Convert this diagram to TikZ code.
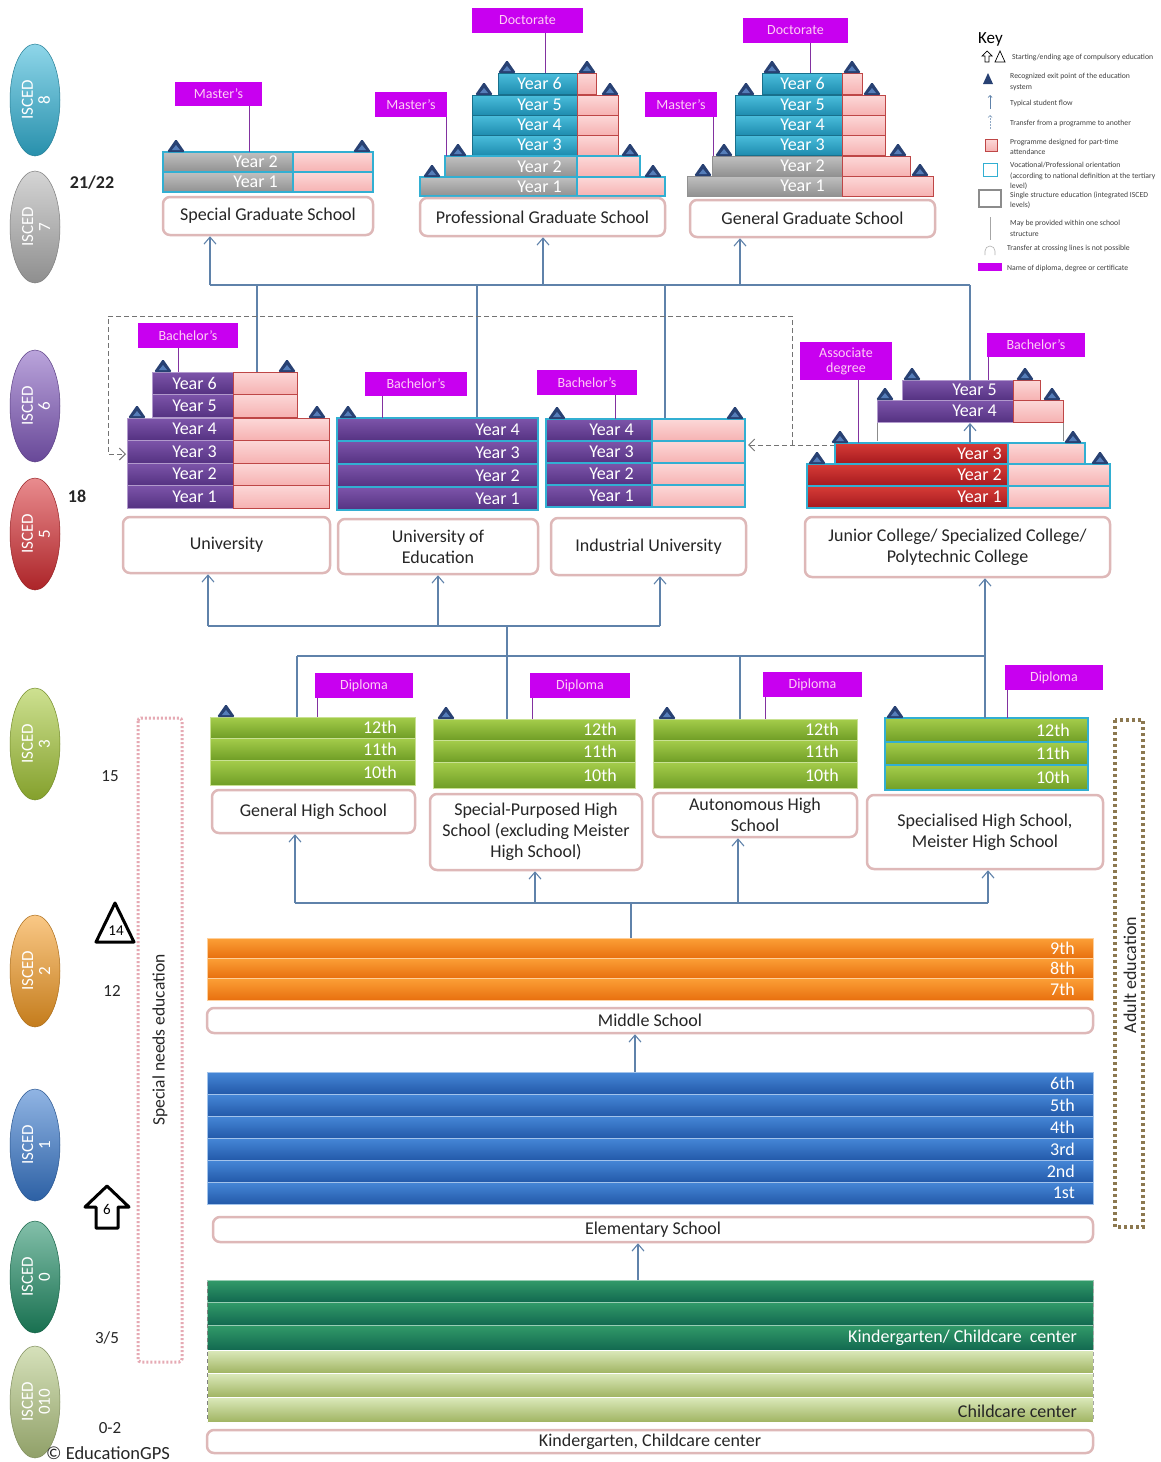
\documentclass[tikz,border=0pt]{standalone}
\usepackage{fontspec}
\setmainfont{Carlito}
\usetikzlibrary{arrows.meta}
\definecolor{mag}{RGB}{200,0,240}
\definecolor{magt}{RGB}{255,205,245}
\definecolor{magline}{RGB}{130,50,160}
\definecolor{pkA}{RGB}{252,216,216}
\definecolor{pkB}{RGB}{246,178,178}
\definecolor{pinkb}{RGB}{190,70,70}
\definecolor{cyanb}{RGB}{50,175,210}
\definecolor{grA}{RGB}{192,192,192}
\definecolor{grB}{RGB}{145,145,145}
\definecolor{teA}{RGB}{75,190,220}
\definecolor{teB}{RGB}{30,140,175}
\definecolor{puA}{RGB}{125,85,170}
\definecolor{puB}{RGB}{85,50,130}
\definecolor{rdA}{RGB}{215,60,55}
\definecolor{rdB}{RGB}{165,25,30}
\definecolor{gnA}{RGB}{165,205,75}
\definecolor{gnB}{RGB}{112,158,38}
\definecolor{orA}{RGB}{252,160,55}
\definecolor{orB}{RGB}{232,112,15}
\definecolor{blA}{RGB}{70,135,215}
\definecolor{blB}{RGB}{35,90,170}
\definecolor{dgA}{RGB}{50,155,105}
\definecolor{dgB}{RGB}{18,105,80}
\definecolor{lgA}{RGB}{220,234,188}
\definecolor{lgB}{RGB}{160,180,98}
\definecolor{boxb}{RGB}{222,184,184}
\definecolor{flowc}{RGB}{95,130,170}
\definecolor{triC}{RGB}{40,65,115}
\definecolor{triL}{RGB}{85,125,185}
\definecolor{iEight}{RGB}{50,180,215}
\definecolor{iSeven}{RGB}{178,178,178}
\definecolor{iSix}{RGB}{130,90,190}
\definecolor{iFive}{RGB}{215,45,50}
\definecolor{iThree}{RGB}{165,200,55}
\definecolor{iTwo}{RGB}{245,155,35}
\definecolor{iOne}{RGB}{55,120,205}
\definecolor{iZero}{RGB}{30,140,100}
\definecolor{iZZ}{RGB}{180,200,130}
\definecolor{spn}{RGB}{230,170,180}
\definecolor{adl}{RGB}{140,120,80}

% year row: x1 x2 x3 y1 y2 colstyle pinkstyle text offset
\newcommand{\yrow}[9]{%
  \path[#6] (#1,#4) rectangle (#2,#5);
  \path[#7] (#2,#4) rectangle (#3,#5);
  \node[yrt, anchor=east] at ({#2-#9},{(#4+#5)/2}) {#8};}
% full band: x1 x2 y1 y2 style text
\newcommand{\cband}[6]{%
  \path[#5] (#1,#3) rectangle (#2,#4);
  \node[yrt, anchor=east] at ({#2-18},{(#3+#4)/2}) {#6};}
% triangle exit point
\newcommand{\etri}[2]{%
  \fill[triC, rounded corners=1.5pt] ({#1-9},#2) -- (#1,{#2-13}) -- ({#1+9},#2) -- cycle;
  \fill[triL] ({#1-4},{#2-2}) -- (#1,{#2-7}) -- ({#1+4},{#2-2}) -- cycle;}
% school box
\newcommand{\schoolbox}[6]{%
  \node[sbox, minimum width={#4-#2}, minimum height={#5-#3}] (#1) at ({(#2+#4)/2},{(#3+#5)/2}) {#6};}
% diploma label: name x1 y1 x2 y2 linex liney text
\newcommand{\dlab}[8]{%
  \node[labbox, minimum width={#4-#2}, minimum height={#5-#3}] (#1) at ({(#2+#4)/2},{(#3+#5)/2}) {#8};
  \coordinate (#1t) at (#6,#7);
  \draw[labline] (#1.south -| #1t) -- (#1t);}
% ISCED ellipse: name y color number
\newcommand{\iscell}[4]{%
  \path[top color=#3!55!white, bottom color=#3!80!black, draw=#3!70!black, line width=0.5pt] (35,#2) ellipse [x radius=25pt, y radius=56pt];
  \node[rotate=90, text=white, align=center, font=\fontsize{17}{17}\selectfont] (#1) at (36,#2) {ISCED\\#4};}

\begin{document}
\begin{tikzpicture}[x=1pt,y=-1pt,
  flowl/.style={draw=flowc, line width=1.1pt},
  flowa/.style={draw=flowc, line width=1.1pt, -{Straight Barb[length=7pt,width=12pt]}},
  dflow/.style={draw=black!55, line width=1pt, dash pattern=on 5pt off 3pt},
  labbox/.style={fill=mag, inner sep=1pt, text=magt, font=\fontsize{14}{15}\selectfont, align=center},
  labline/.style={draw=magline, line width=1pt},
  sbox/.style={draw=boxb, line width=2.5pt, rounded corners=7pt, fill=white, inner sep=2pt, align=center, font=\fontsize{18}{21}\selectfont, text=black!85},
  yrt/.style={text=white, font=\fontsize{18}{18}\selectfont, inner sep=0pt},
  sgr/.style={top color=grA, bottom color=grB, draw=grB, line width=0.4pt},
  sgrc/.style={top color=grA, bottom color=grB, draw=cyanb, line width=1.3pt},
  ste/.style={top color=teA, bottom color=teB, draw=teB!80!black, line width=0.4pt},
  spu/.style={top color=puA, bottom color=puB, draw=puA!60!white, line width=0.5pt},
  spuc/.style={top color=puA, bottom color=puB, draw=cyanb, line width=1.3pt},
  srdc/.style={top color=rdA, bottom color=rdB, draw=cyanb, line width=1.6pt},
  spk/.style={top color=pkA, bottom color=pkB, draw=pinkb, line width=0.7pt},
  spkc/.style={top color=pkA, bottom color=pkB, draw=cyanb, line width=1.3pt},
  sgn/.style={top color=gnA, bottom color=gnB, draw=gnA!60!white, line width=0.4pt},
  sgnc/.style={top color=gnA, bottom color=gnB, draw=cyanb, line width=1.6pt},
  sorg/.style={top color=orA, bottom color=orB, draw=orA!50!white, line width=0.4pt},
  sblu/.style={top color=blA, bottom color=blB, draw=blA!50!white, line width=0.4pt},
  sdgn/.style={top color=dgA, bottom color=dgB, draw=dgA!50!white, line width=0.4pt},
  slgn/.style={top color=lgA, bottom color=lgB, draw=white, line width=0.4pt},
  keyt/.style={anchor=west, align=left, font=\fontsize{7.7}{10.5}\selectfont, text=black!75, inner sep=0pt},
  age/.style={font=\fontsize{17}{17}\selectfont, text=black!85}
]
\useasboundingbox (0,0) rectangle (1160,1462);
\fill[white] (0,0) rectangle (1160,1462);

% ---------- ISCED ellipses ----------
\iscell{i8}{100}{iEight}{8}
\iscell{i7}{227}{iSeven}{7}
\iscell{i6}{406}{iSix}{6}
\iscell{i5}{534}{iFive}{5}
\iscell{i3}{744}{iThree}{3}
\iscell{i2}{971}{iTwo}{2}
\iscell{i1}{1145}{iOne}{1}
\iscell{i0}{1277}{iZero}{0}
\iscell{i010}{1402}{iZZ}{010}

% ---------- ages ----------
\node[age, font=\fontsize{18}{18}\bfseries] (a21) at (92,183) {21/22};
\node[age, font=\fontsize{18}{18}\bfseries] (a18) at (77,496) {18};
\node[age] (a15) at (110,776) {15};
\node[age] (a12) at (112,991) {12};
\node[age] (a35) at (107,1338) {3/5};
\node[age] (a02) at (110,1428) {0-2};
\node[font=\fontsize{18.5}{18.5}\selectfont, text=black!85] (copy) at (108,1453) {© EducationGPS};
\draw[line width=3pt, line join=round] (96,942) -- (115,903) -- (134,942) -- cycle;
\node[font=\fontsize{15}{15}\selectfont] (a14) at (116,931) {14};
\draw[line width=3pt, line join=round] (107,1186) -- (85,1207) -- (96,1207) -- (96,1228) -- (118,1228) -- (118,1207) -- (129,1207) -- cycle;
\node[font=\fontsize{15}{15}\selectfont] (a6) at (107,1209) {6};

% ---------- side frames ----------
\draw[spn, line width=3pt, dash pattern=on 2pt off 2pt, rounded corners=3pt] (138,718) rectangle (182,1362);
\node[rotate=90, font=\fontsize{17.5}{17.5}\selectfont, text=black!85] (sne) at (160,1040) {Special needs education};
\draw[adl, line width=3.5pt, dash pattern=on 3pt off 3pt] (1115,720) rectangle (1143,1227);
\node[rotate=90, font=\fontsize{18}{18}\selectfont, text=black!85] (adu) at (1130,975) {Adult education};

% ---------- flow lines (graduate) ----------
\coordinate (g0) at (210,285); \coordinate (g1) at (257,285); \coordinate (g2) at (477,285);
\coordinate (g3) at (543,285); \coordinate (g4) at (665,285); \coordinate (g5) at (740,285);
\coordinate (g6) at (970,285);
\coordinate (u6) at (257,372); \coordinate (e4) at (477,418); \coordinate (d4) at (665,419);
\coordinate (j5) at (970,380);
\draw[flowl] (g0) -- (g6);
\draw[flowl] (g1) -- (u6);
\draw[flowl] (g2) -- (e4);
\draw[flowl] (g4) -- (d4);
\draw[flowl] (g6) -- (j5);

% ---------- flow lines (HS -> tertiary) ----------
\coordinate (h0) at (208,626); \coordinate (h1) at (438,626); \coordinate (h2) at (507,626);
\coordinate (h3) at (660,626);
\coordinate (sp) at (507,719);
\draw[flowl] (h0) -- (h3);
\draw[flowl] (sp) -- (h2);
\coordinate (k0) at (297,656); \coordinate (k1) at (740,656); \coordinate (k2) at (985,656);
\coordinate (gh) at (297,717); \coordinate (ah) at (740,719); \coordinate (sh) at (985,718);
\draw[flowl] (k0) -- (k2);
\draw[flowl] (k0) -- (gh);
\draw[flowl] (k1) -- (ah);

% ---------- flow lines (middle -> HS) ----------
\coordinate (m0) at (631,938); \coordinate (m1) at (631,903);
\coordinate (n0) at (295,903); \coordinate (n1) at (535,903); \coordinate (n2) at (738,903); \coordinate (n3) at (988,903);
\draw[flowl] (m0) -- (m1);
\draw[flowl] (n0) -- (n3);

% ---------- dashed transfer ----------
\coordinate (t0) at (835,445); \coordinate (t1) at (748,445); \coordinate (t2) at (792,445);
\coordinate (t3) at (792,316); \coordinate (t4) at (108,316); \coordinate (t5) at (108,454); \coordinate (t6) at (126,454);
\draw[dflow, -{Straight Barb[length=6pt,width=12pt]}] (t0) -- (t1);
\draw[dflow, -{Straight Barb[length=6pt,width=12pt]}] (t2) -- (t3) -- (t4) -- (t5) -- (t6);

% ---------- Special Graduate School ----------
\yrow{163}{293}{373}{152}{172}{sgrc}{spkc}{Year 2}{15}
\yrow{163}{293}{373}{172}{192}{sgrc}{spkc}{Year 1}{15}
\etri{176}{152}\etri{362}{152}
\dlab{lm1}{175}{82}{262}{106}{249}{152}{Master's}
\schoolbox{SGS}{163}{197}{373}{235}{Special Graduate School}

% ---------- Professional Graduate School ----------
\yrow{498}{577}{596}{73}{94}{ste}{spk}{Year 6}{15}
\yrow{472}{577}{618}{95}{115}{ste}{spk}{Year 5}{15}
\yrow{472}{577}{618}{115}{135}{ste}{spk}{Year 4}{15}
\yrow{472}{577}{618}{135}{155}{ste}{spk}{Year 3}{15}
\yrow{445}{577}{640}{156}{177}{sgrc}{spkc}{Year 2}{15}
\yrow{420}{577}{665}{177}{196}{sgrc}{spkc}{Year 1}{15}
\etri{432}{177}\etri{653}{177}\etri{458}{156}\etri{630}{156}
\etri{484}{95}\etri{610}{95}\etri{507}{73}\etri{587}{73}
\dlab{ld1}{472}{8}{583}{33}{545}{73}{Doctorate}
\dlab{lm2}{375}{92}{447}{117}{446}{156}{Master's}
\schoolbox{PGS}{420}{198}{665}{236}{Professional Graduate School}

% ---------- General Graduate School ----------
\yrow{762}{842}{862}{73}{94}{ste}{spk}{Year 6}{17}
\yrow{735}{842}{885}{95}{115}{ste}{spk}{Year 5}{17}
\yrow{735}{842}{885}{115}{135}{ste}{spk}{Year 4}{17}
\yrow{735}{842}{885}{135}{155}{ste}{spk}{Year 3}{17}
\yrow{712}{842}{910}{156}{176}{sgr}{spk}{Year 2}{17}
\yrow{687}{842}{933}{176}{196}{sgr}{spk}{Year 1}{17}
\etri{703}{176}\etri{920}{176}\etri{724}{156}\etri{898}{156}
\etri{746}{95}\etri{872}{95}\etri{772}{73}\etri{852}{73}
\dlab{ld2}{743}{18}{848}{43}{810}{73}{Doctorate}
\dlab{lm3}{645}{92}{717}{117}{713}{156}{Master's}
\schoolbox{GGS}{690}{200}{935}{237}{General Graduate School}

% ---------- University ----------
\yrow{152}{233}{297}{372}{394}{spu}{spk}{Year 6}{16}
\yrow{152}{233}{297}{394}{417}{spu}{spk}{Year 5}{16}
\yrow{127}{233}{329}{418}{440}{spu}{spk}{Year 4}{16}
\yrow{127}{233}{329}{440}{463}{spu}{spk}{Year 3}{16}
\yrow{127}{233}{329}{463}{485}{spu}{spk}{Year 2}{16}
\yrow{127}{233}{329}{485}{508}{spu}{spk}{Year 1}{16}
\etri{137}{418}\etri{317}{418}\etri{163}{372}\etri{287}{372}
\dlab{lb1}{138}{323}{238}{348}{178}{372}{Bachelor's}
\schoolbox{UNI}{123}{517}{330}{573}{University}

% ---------- University of Education ----------
\cband{337}{538}{418}{441}{spuc}{Year 4}
\cband{337}{538}{441}{464}{spuc}{Year 3}
\cband{337}{538}{464}{487}{spuc}{Year 2}
\cband{337}{538}{487}{510}{spuc}{Year 1}
\etri{348}{418}
\dlab{lb2}{365}{372}{467}{396}{382}{418}{Bachelor's}
\schoolbox{UOE}{338}{519}{538}{574}{University of\\Education}

% ---------- Industrial University ----------
\yrow{546}{652}{745}{419}{441}{spuc}{spkc}{Year 4}{18}
\yrow{546}{652}{745}{441}{463}{spuc}{spkc}{Year 3}{18}
\yrow{546}{652}{745}{463}{485}{spuc}{spkc}{Year 2}{18}
\yrow{546}{652}{745}{485}{507}{spuc}{spkc}{Year 1}{18}
\etri{557}{419}\etri{735}{419}
\dlab{lb3}{537}{370}{637}{395}{615}{419}{Bachelor's}
\schoolbox{IND}{551}{518}{746}{575}{Industrial University}

% ---------- Junior College ----------
\coordinate (jb1) at (877,422); \coordinate (jb1e) at (877,441);
\coordinate (jb2) at (1063,422); \coordinate (jb2e) at (1063,441);
\draw[black!45, line width=0.8pt] (jb1) -- (jb1e);
\draw[black!45, line width=0.8pt] (jb2) -- (jb2e);
\yrow{902}{1013}{1040}{380}{400}{spu}{spk}{Year 5}{16}
\yrow{877}{1013}{1063}{400}{422}{spu}{spk}{Year 4}{16}
\yrow{835}{1008}{1085}{443}{464}{srdc}{spkc}{Year 3}{6}
\yrow{807}{1008}{1110}{464}{486}{srdc}{spkc}{Year 2}{6}
\yrow{807}{1008}{1110}{486}{508}{srdc}{spkc}{Year 1}{6}
\etri{840}{443}\etri{1073}{443}\etri{817}{464}\etri{1100}{464}
\etri{885}{400}\etri{1052}{400}\etri{912}{380}\etri{1025}{380}
\coordinate (jy3) at (970,443); \coordinate (jy4) at (970,423);
\draw[flowa] (jy3) -- (jy4);
\dlab{la}{800}{342}{892}{380}{858}{443}{Associate\\degree}
\dlab{lb4}{987}{333}{1085}{357}{988}{380}{Bachelor's}
\schoolbox{JUN}{805}{517}{1110}{577}{Junior College/ Specialized College/\\Polytechnic College}

% ---------- High schools ----------
\cband{210}{415}{717}{738}{sgn}{12th}
\cband{210}{415}{738}{760}{sgn}{11th}
\cband{210}{415}{760}{785}{sgn}{10th}
\etri{226}{717}
\dlab{ldp1}{315}{673}{413}{698}{317}{717}{Diploma}
\schoolbox{GHS}{212}{790}{415}{833}{General High School}

\cband{433}{635}{719}{740}{sgn}{12th}
\cband{433}{635}{740}{762}{sgn}{11th}
\cband{433}{635}{762}{788}{sgn}{10th}
\etri{446}{719}
\dlab{ldp2}{530}{673}{630}{698}{532}{719}{Diploma}
\schoolbox{SPHS}{430}{794}{642}{870}{Special-Purposed High\\School (excluding Meister\\High School)}

\cband{653}{857}{719}{740}{sgn}{12th}
\cband{653}{857}{740}{762}{sgn}{11th}
\cband{653}{857}{762}{788}{sgn}{10th}
\etri{667}{719}
\dlab{ldp3}{763}{672}{862}{697}{765}{719}{Diploma}
\schoolbox{AHS}{653}{793}{857}{837}{Autonomous High\\School}

\cband{885}{1088}{718}{742}{sgnc}{12th}
\cband{885}{1088}{742}{765}{sgnc}{11th}
\cband{885}{1088}{765}{790}{sgnc}{10th}
\etri{895}{718}
\dlab{ldp4}{1005}{665}{1103}{690}{1007}{718}{Diploma}
\schoolbox{SHS}{867}{795}{1103}{869}{Specialised High School,\\Meister High School}

% ---------- Middle school ----------
\cband{207}{1093}{938}{958}{sorg}{9th}
\cband{207}{1093}{958}{978}{sorg}{8th}
\cband{207}{1093}{978}{1000}{sorg}{7th}
\schoolbox{MID}{207}{1008}{1093}{1033}{Middle School}

% ---------- Elementary ----------
\cband{207}{1093}{1072}{1094}{sblu}{6th}
\cband{207}{1093}{1094}{1116}{sblu}{5th}
\cband{207}{1093}{1116}{1138}{sblu}{4th}
\cband{207}{1093}{1138}{1160}{sblu}{3rd}
\cband{207}{1093}{1160}{1182}{sblu}{2nd}
\cband{207}{1093}{1182}{1204}{sblu}{1st}
\schoolbox{ELE}{213}{1217}{1093}{1242}{Elementary School}

% ---------- Kindergarten ----------
\cband{207}{1093}{1280}{1302}{sdgn}{}
\cband{207}{1093}{1302}{1325}{sdgn}{}
\path[sdgn] (207,1325) rectangle (1093,1350);
\node[yrt, anchor=east] (kgt) at (1077,1338) {Kindergarten/ Childcare\ \ center};
\cband{207}{1093}{1350}{1373}{slgn}{}
\cband{207}{1093}{1373}{1397}{slgn}{}
\path[slgn] (207,1397) rectangle (1093,1422);
\node[yrt, anchor=east, text=black!85] (cct) at (1077,1411) {Childcare center};
\draw[black!50, line width=1pt, dash pattern=on 4pt off 3pt] (207,1282) -- (207,1422);
\draw[black!35, line width=1pt, dash pattern=on 4pt off 3pt] (1093,1282) -- (1093,1422);
\schoolbox{KIN}{207}{1430}{1093}{1453}{Kindergarten, Childcare center}

% ---------- arrows into boxes ----------
\draw[flowa] (g0) -- (g0 |- SGS.south);
\draw[flowa] (g3) -- (g3 |- PGS.south);
\draw[flowa] (g5) -- (g5 |- GGS.south);
\draw[flowa] (h0) -- (h0 |- UNI.south);
\draw[flowa] (h1) -- (h1 |- UOE.south);
\draw[flowa] (h3) -- (h3 |- IND.south);
\draw[flowa] (sh) -- (sh |- JUN.south);
\draw[flowa] (n0) -- (n0 |- GHS.south);
\draw[flowa] (n1) -- (n1 |- SPHS.south);
\draw[flowa] (n2) -- (n2 |- AHS.south);
\draw[flowa] (n3) -- (n3 |- SHS.south);
\coordinate (el) at (635,1072); \coordinate (kg) at (638,1280);
\draw[flowa] (el) -- (el |- MID.south);
\draw[flowa] (kg) -- (kg |- ELE.south);

% ---------- Key ----------
\node[anchor=west, font=\fontsize{17}{17}\selectfont, inner sep=0pt] (key) at (978,39) {Key};
\draw[line width=0.7pt] (987,51) -- (982,56) -- (985,56) -- (985,62) -- (989,62) -- (989,56) -- (992,56) -- cycle;
\draw[line width=0.7pt] (995,62) -- (1000,51) -- (1005,62) -- cycle;
\node[keyt] (k1) at (1012,57) {Starting/ending age of compulsory education};
\fill[triC] (983,84) -- (988,73) -- (993,84) -- cycle;
\node[keyt] (k2) at (1010,82) {Recognized exit point of the education\\system};
\draw[flowc, line width=0.7pt, -{Straight Barb[length=2pt,width=4pt]}] (990,109) -- (990,95);
\node[keyt] (k3) at (1010,103) {Typical student flow};
\draw[flowc!70, line width=0.7pt, dash pattern=on 2pt off 1pt, -{Straight Barb[length=2pt,width=4pt]}] (990,129) -- (990,115);
\node[keyt] (k4) at (1010,123) {Transfer from a programme to another};
\path[spk] (985,139) rectangle (997,151);
\node[keyt] (k5) at (1010,147) {Programme designed for part-time\\attendance};
\draw[cyanb, line width=1pt] (983,163) rectangle (997,176);
\node[keyt] (k6) at (1010,176) {Vocational/Professional orientation\\(according to national definition at the tertiary\\level)};
\draw[black!45, line width=2pt] (979,190) rectangle (1001,207);
\node[keyt] (k7) at (1010,200) {Single structure education (integrated ISCED\\levels)};
\draw[black!35, line width=0.6pt] (990,217) -- (990,240);
\node[keyt] (k8) at (1010,228.5) {May be provided within one school\\structure};
\draw[black!30, line width=0.6pt] (985,255) -- (985,251) arc (180:0:5pt) -- (995,255);
\node[keyt] (k9) at (1007,248) {Transfer at crossing lines is not possible};
\fill[mag] (978,263) rectangle (1002,271);
\node[keyt] (k10) at (1007,268) {Name of diploma, degree or certificate};
\end{tikzpicture}
\end{document}
